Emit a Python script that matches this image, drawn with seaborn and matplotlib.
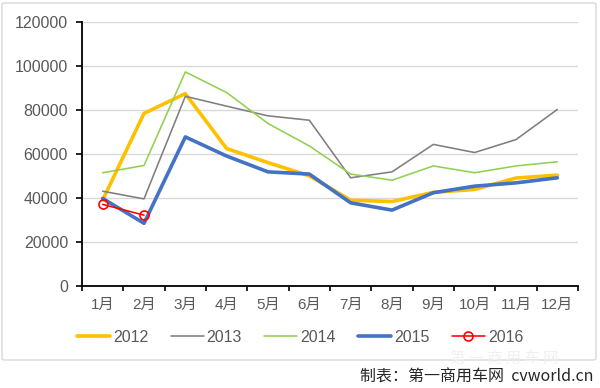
import matplotlib
matplotlib.use("Agg")
import matplotlib.pyplot as plt
from matplotlib.patches import FancyBboxPatch
import seaborn as sns
import pandas as pd

months = ["1月", "2月", "3月", "4月", "5月", "6月", "7月", "8月", "9月", "10月", "11月", "12月"]
s2012 = [39000, 78400, 87400, 62400, 56000, 50000, 38900, 38300, 42500, 43800, 49000, 50300]
s2013 = [43000, 39500, 86200, 81700, 77300, 75300, 49100, 51800, 64300, 60600, 66500, 80200]
s2014 = [51400, 54700, 97300, 87900, 73800, 63600, 50800, 48000, 54500, 51400, 54500, 56400]
s2015 = [39700, 28400, 67700, 59000, 51800, 50800, 37700, 34400, 42300, 45300, 46800, 49100]
s2016 = [37000, 32100]
yticks = [0, 20000, 40000, 60000, 80000, 100000, 120000]

series = [
    ("2012", s2012, "#FFC000", 2.6, None),
    ("2013", s2013, "#7F7F7F", 1.15, None),
    ("2014", s2014, "#92D050", 1.15, None),
    ("2015", s2015, "#4472C4", 2.6, None),
    ("2016", s2016, "#FF0000", 1.15, "o"),
]

sns.set_theme(style="white")
plt.rcParams["font.family"] = ["Liberation Sans", "Noto Sans CJK SC", "DejaVu Sans"]

fig = plt.figure(figsize=(6.0, 3.88), dpi=100)
# outer border
border = FancyBboxPatch((2 / 600, 28 / 388), 594 / 600, 357 / 388,
                        boxstyle="round,pad=0,rounding_size=0.004",
                        transform=fig.transFigure, facecolor="none",
                        edgecolor="#D9D9D9", linewidth=1.0, zorder=-5)
fig.patches.append(border)

ax = fig.add_axes([82 / 600, 1 - 285.7 / 388, 496 / 600, (285.7 - 22) / 388])
ax.set_facecolor("none")
ax.set_zorder(2)

for name, vals, color, lw, marker in series:
    df = pd.DataFrame({"x": list(range(len(vals))), "y": vals})
    if marker:
        sns.lineplot(data=df, x="x", y="y", ax=ax, color=color, linewidth=lw,
                     marker=marker, markersize=6.5, markerfacecolor="none",
                     markeredgecolor=color, markeredgewidth=1.2, label=name, zorder=5)
    else:
        sns.lineplot(data=df, x="x", y="y", ax=ax, color=color, linewidth=lw,
                     label=name, zorder=3)

ax.set_xlim(-0.5, 11.5)
ax.set_ylim(0, 120000)
ax.set_yticks(yticks)
ax.set_yticklabels([str(v) for v in yticks], fontsize=11.5, color="#595959")
ax.set_xticks(range(12))
ax.set_xticklabels(months, fontsize=11, color="#595959")
ax.set_xticks([i - 0.5 for i in range(13)], minor=True)
ax.tick_params(axis="x", which="major", length=0, pad=9)
ax.tick_params(axis="x", which="minor", length=3.5, width=1.2, color="black", direction="out", bottom=True)
ax.tick_params(axis="y", which="major", length=4, width=1.2, color="black", direction="out", left=True, pad=6)
ax.set_xlabel("")
ax.set_ylabel("")
ax.grid(axis="y", color="#D9D9D9", linewidth=1.0)
ax.grid(axis="x", visible=False)
ax.set_axisbelow(True)
for side in ["top", "right"]:
    ax.spines[side].set_visible(False)
for side in ["left", "bottom"]:
    ax.spines[side].set_color("black")
    ax.spines[side].set_linewidth(1.3)

ax.legend(loc="center", bbox_to_anchor=(0.44, -(337 - 285.7) / 263.7), ncol=5, frameon=False,
          fontsize=11.5, handlelength=2.05, handletextpad=0.2, columnspacing=1.4,
          labelcolor="#595959")

fig.text(0.84, 1 - 358 / 388, "第 一 商 用 车 网", fontsize=11, color="#F0F0F0",
         ha="center", va="center", family=["Noto Sans CJK SC"], zorder=1)
fig.text(0.99, 1 - 377 / 388, "制表：第一商用车网  cvworld.cn", fontsize=11.5, color="#262626",
         ha="right", va="center", family=["Noto Sans CJK SC", "DejaVu Sans"])

fig.savefig("out.png", dpi=100)
